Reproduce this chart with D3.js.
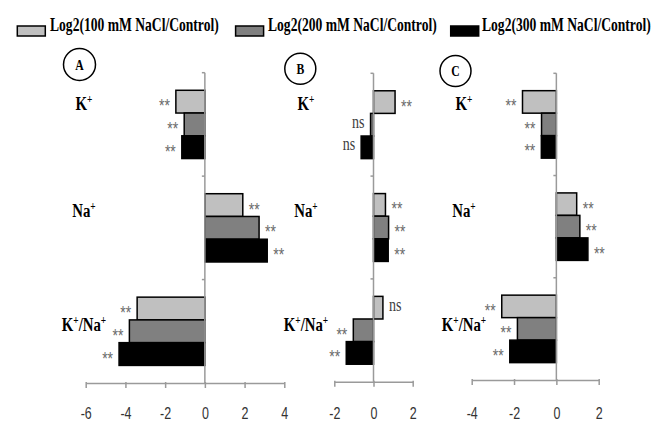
<!DOCTYPE html>
<html><head><meta charset="utf-8">
<script src="https://cdn.jsdelivr.net/npm/d3@7"></script>
<style>body{margin:0;background:#fff}svg{display:block}</style>
</head><body>
<svg id="c" width="659" height="421"></svg>
<script>
// ---- data ----
const categories = ["K", "Na", "K/Na"];
const seriesNames = ["Log2(100 mM NaCl/Control)", "Log2(200 mM NaCl/Control)", "Log2(300 mM NaCl/Control)"];
const panelNames = ["A", "B", "C"];
const A100 = [-1.46, 1.91, -3.41];
const A200 = [-1.04, 2.73, -3.80];
const A300 = [-1.16, 3.14, -4.32];
const B100 = [1.10, 0.61, 0.48];
const B200 = [-0.15, 0.77, -1.03];
const B300 = [-0.63, 0.75, -1.39];
const C100 = [-1.60, 0.96, -2.58];
const C200 = [-0.70, 1.11, -1.84];
const C300 = [-0.71, 1.49, -2.20];
const sigA = [["**","**","**"],["**","**","**"],["**","**","**"]];
const sigB = [["**","**","ns"],["ns","**","**"],["ns","**","**"]];
const sigC = [["**","**","**"],["**","**","**"],["**","**","**"]];
const ticksA = [-6, -4, -2, 0, 2, 4];
const ticksB = [-2, 0, 2];
const ticksC = [-4, -2, 0, 2];

// ---- layout / style ----
const fills = ["#c0c0c0", "#808080", "#000000"];
const SX = 0.78;
const panels = [
  {name: panelNames[0], vals: [A100, A200, A300], sig: sigA, ticks: ticksA, dom: [-6, 4], rng: [85.7, 284.3], top: 72.7, bottom: 383, circle: [79.5, 64.5, 16], labelX: 84},
  {name: panelNames[1], vals: [B100, B200, B300], sig: sigB, ticks: ticksB, dom: [-2, 2], rng: [334.3, 412.7], top: 73.3, bottom: 381.7, circle: [300.3, 68.7, 15.5], labelX: 306},
  {name: panelNames[2], vals: [C100, C200, C300], sig: sigC, ticks: ticksC, dom: [-4, 2], rng: [471.7, 598.7], top: 73.3, bottom: 380, circle: [455.5, 71, 15.5], labelX: 464}
];
const labelBaselines = [110, 216.5, 331];

const svg = d3.select("#c");

function catLabel(g, cat, x, y) {
  const t = g.append("text")
    .attr("transform", `translate(${x},${y}) scale(${SX},1)`)
    .attr("text-anchor", "middle")
    .attr("font-family", "Liberation Serif, serif")
    .attr("font-weight", "bold")
    .attr("font-size", 19)
    .attr("fill", "#000");
  const parts = cat.split("/");
  parts.forEach((p, i) => {
    const base = t.append("tspan").text((i > 0 ? "/" : "") + p);
    if (i > 0) base.attr("dy", 7);
    t.append("tspan").attr("font-size", 12).attr("dy", -7).text("+");
  });
}

panels.forEach(P => {
  const g = svg.append("g");
  const x = d3.scaleLinear().domain(P.dom).range(P.rng);
  const y = d3.scaleBand().domain(categories).range([P.top, P.bottom]).padding(0);
  const bw = y.bandwidth();
  const ys = d3.scaleBand().domain([0, 1, 2]).range([bw * 0.17, bw * 0.83]).padding(0);

  // bars
  P.vals.forEach((arr, si) => {
    g.selectAll(null).data(arr).enter().append("rect")
      .attr("x", d => x(Math.min(0, d)))
      .attr("width", d => Math.abs(x(d) - x(0)))
      .attr("y", (d, i) => y(categories[i]) + ys(si))
      .attr("height", ys.bandwidth())
      .attr("fill", fills[si])
      .attr("stroke", "#000")
      .attr("stroke-width", 1.5);
    // significance labels
    arr.forEach((d, i) => {
      const s = P.sig[si][i];
      const cy = y(categories[i]) + ys(si) + ys.bandwidth() / 2;
      const isNs = s === "ns";
      const px = d >= 0 ? x(d) + 6 : x(d) - 6;
      g.append("text")
        .attr("transform", `translate(${px},${cy + (isNs ? 3 : 10.5)}) scale(${SX},1)`)
        .attr("text-anchor", d >= 0 ? "start" : "end")
        .attr("font-family", isNs ? "Liberation Serif, serif" : "Liberation Sans, sans-serif")
        .attr("font-size", 18)
        .attr("fill", isNs ? "#404040" : "#6a6a6a")
        .text(s);
    });
  });

  // vertical axis
  g.append("line").attr("x1", x(0)).attr("x2", x(0)).attr("y1", P.top).attr("y2", P.bottom)
    .attr("stroke", "#9a9a9a").attr("stroke-width", 1.5);
  categories.forEach(c => {
    g.append("line").attr("x1", x(0) - 3).attr("x2", x(0)).attr("y1", y(c)).attr("y2", y(c))
      .attr("stroke", "#9a9a9a").attr("stroke-width", 1.5);
  });

  // x axis
  const ax = g.append("g").attr("transform", `translate(0,${P.bottom})`)
    .call(d3.axisBottom(x).tickValues(P.ticks).tickSize(5).tickSizeOuter(0).tickFormat(d3.format("d")));
  ax.select(".domain").attr("stroke", "#9a9a9a").attr("stroke-width", 1.5);
  ax.selectAll(".tick line").attr("stroke", "#9a9a9a").attr("stroke-width", 1.5).attr("y1", -1);
  ax.selectAll(".tick text").each(function(d) {
    d3.select(this).attr("y", null).attr("dy", null)
      .attr("transform", `translate(0,${419 - P.bottom}) scale(${SX},1)`)
      .attr("font-family", "Liberation Sans, sans-serif")
      .attr("font-size", 16)
      .attr("fill", "#333")
      .text(d3.format("d")(d).replace("\u2212", "-"));
  });

  // category labels
  categories.forEach((c, i) => catLabel(g, c, P.labelX, labelBaselines[i]));

  // panel circle
  g.append("circle").attr("cx", P.circle[0]).attr("cy", P.circle[1]).attr("r", P.circle[2])
    .attr("fill", "none").attr("stroke", "#000").attr("stroke-width", 1.5);
  g.append("text")
    .attr("transform", `translate(${P.circle[0]},${P.circle[1] + 5}) scale(${SX},1)`)
    .attr("text-anchor", "middle")
    .attr("font-family", "Liberation Serif, serif").attr("font-weight", "bold")
    .attr("font-size", 15).text(P.name);
});

// legend
const legBoxX = [17.3, 235.6, 450.7];
const legTextX = [50, 268, 482];
seriesNames.forEach((s, i) => {
  svg.append("rect").attr("x", legBoxX[i]).attr("y", 26).attr("width", 28).attr("height", 10)
    .attr("fill", fills[i]).attr("stroke", "#000").attr("stroke-width", 1.5);
  svg.append("text").attr("transform", `translate(${legTextX[i]},31) scale(0.755,1)`)
    .attr("font-family", "Liberation Serif, serif").attr("font-weight", "bold")
    .attr("font-size", 18)
    .text(s);
});
</script>
</body></html>
